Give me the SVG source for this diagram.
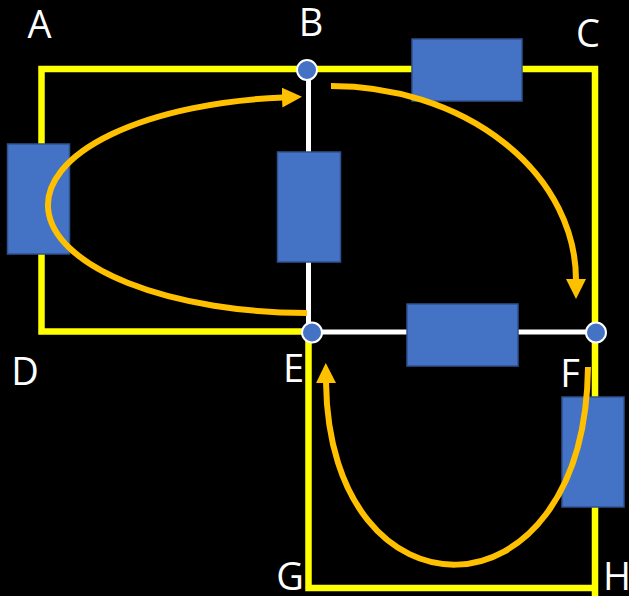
<svg xmlns="http://www.w3.org/2000/svg" width="629" height="596" viewBox="0 0 629 596">
  <style>
    .yl { fill: none; stroke: #FFFF00; stroke-width: 6.5; stroke-linejoin: miter; }
    .wl { fill: none; stroke: #FFFFFF; stroke-width: 5; }
    .box { fill: #4472C4; stroke: #2F528F; stroke-width: 1.5; }
    .node { fill: #4472C4; stroke: #FFFFFF; stroke-width: 2; }
    .arr { fill: none; stroke: #FFC000; stroke-width: 6; }
    .lbl { font-family: "Open Sans", "Liberation Sans", sans-serif; font-size: 38px; fill: #FFFFFF; text-anchor: middle; }
  </style>
  <defs>
    <marker id="ah" markerUnits="userSpaceOnUse" markerWidth="22" markerHeight="22" refX="1" refY="10" orient="auto" viewBox="0 0 22 20">
      <path d="M0,0 L20,10 L0,20 Z" fill="#FFC000"/>
    </marker>
  </defs>
  <rect x="0" y="0" width="629" height="596" fill="#000000"/>

  <g id="connectors">
    <path class="yl" d="M308.5 69 H41.5 V331.5 H308.5"/>
    <path class="yl" d="M308.5 69 H595 V596"/>
    <path class="yl" d="M308.5 332 V588 H595"/>
    <path class="wl" d="M308.5 70 V332"/>
    <path class="wl" d="M311 332 H596"/>
  </g>

  <g id="box-left"><rect class="box" x="7.5" y="144" width="62" height="110"/></g>
  <g id="box-be"><rect class="box" x="277.5" y="152" width="63" height="110"/></g>
  <g id="box-top"><rect class="box" x="412" y="39" width="110" height="62"/></g>
  <g id="box-ef"><rect class="box" x="407" y="304" width="111" height="62"/></g>
  <g id="box-right"><rect class="box" x="562" y="397" width="62" height="110"/></g>

  <g id="arrows">
    <path class="arr" d="M307 313 A260 108 0 0 1 283 97.5" marker-end="url(#ah)"/>
    <path class="arr" d="M331 86 A245 194 0 0 1 576 280" marker-end="url(#ah)"/>
    <path class="arr" d="M588 367 C585 628 329 628 326 382" marker-end="url(#ah)"/>
  </g>

  <g id="node-B"><circle class="node" cx="307" cy="70" r="10"/></g>
  <g id="node-E"><circle class="node" cx="312" cy="332.5" r="10"/></g>
  <g id="node-F"><circle class="node" cx="596" cy="332.5" r="10"/></g>

  <g id="labels">
    <text class="lbl" x="39.5" y="38">A</text>
    <text class="lbl" x="311" y="36">B</text>
    <text class="lbl" x="588" y="47">C</text>
    <text class="lbl" x="25" y="385">D</text>
    <text class="lbl" x="293.5" y="382">E</text>
    <text class="lbl" x="570" y="387">F</text>
    <text class="lbl" x="290" y="590">G</text>
    <text class="lbl" x="617" y="590">H</text>
  </g>
</svg>
